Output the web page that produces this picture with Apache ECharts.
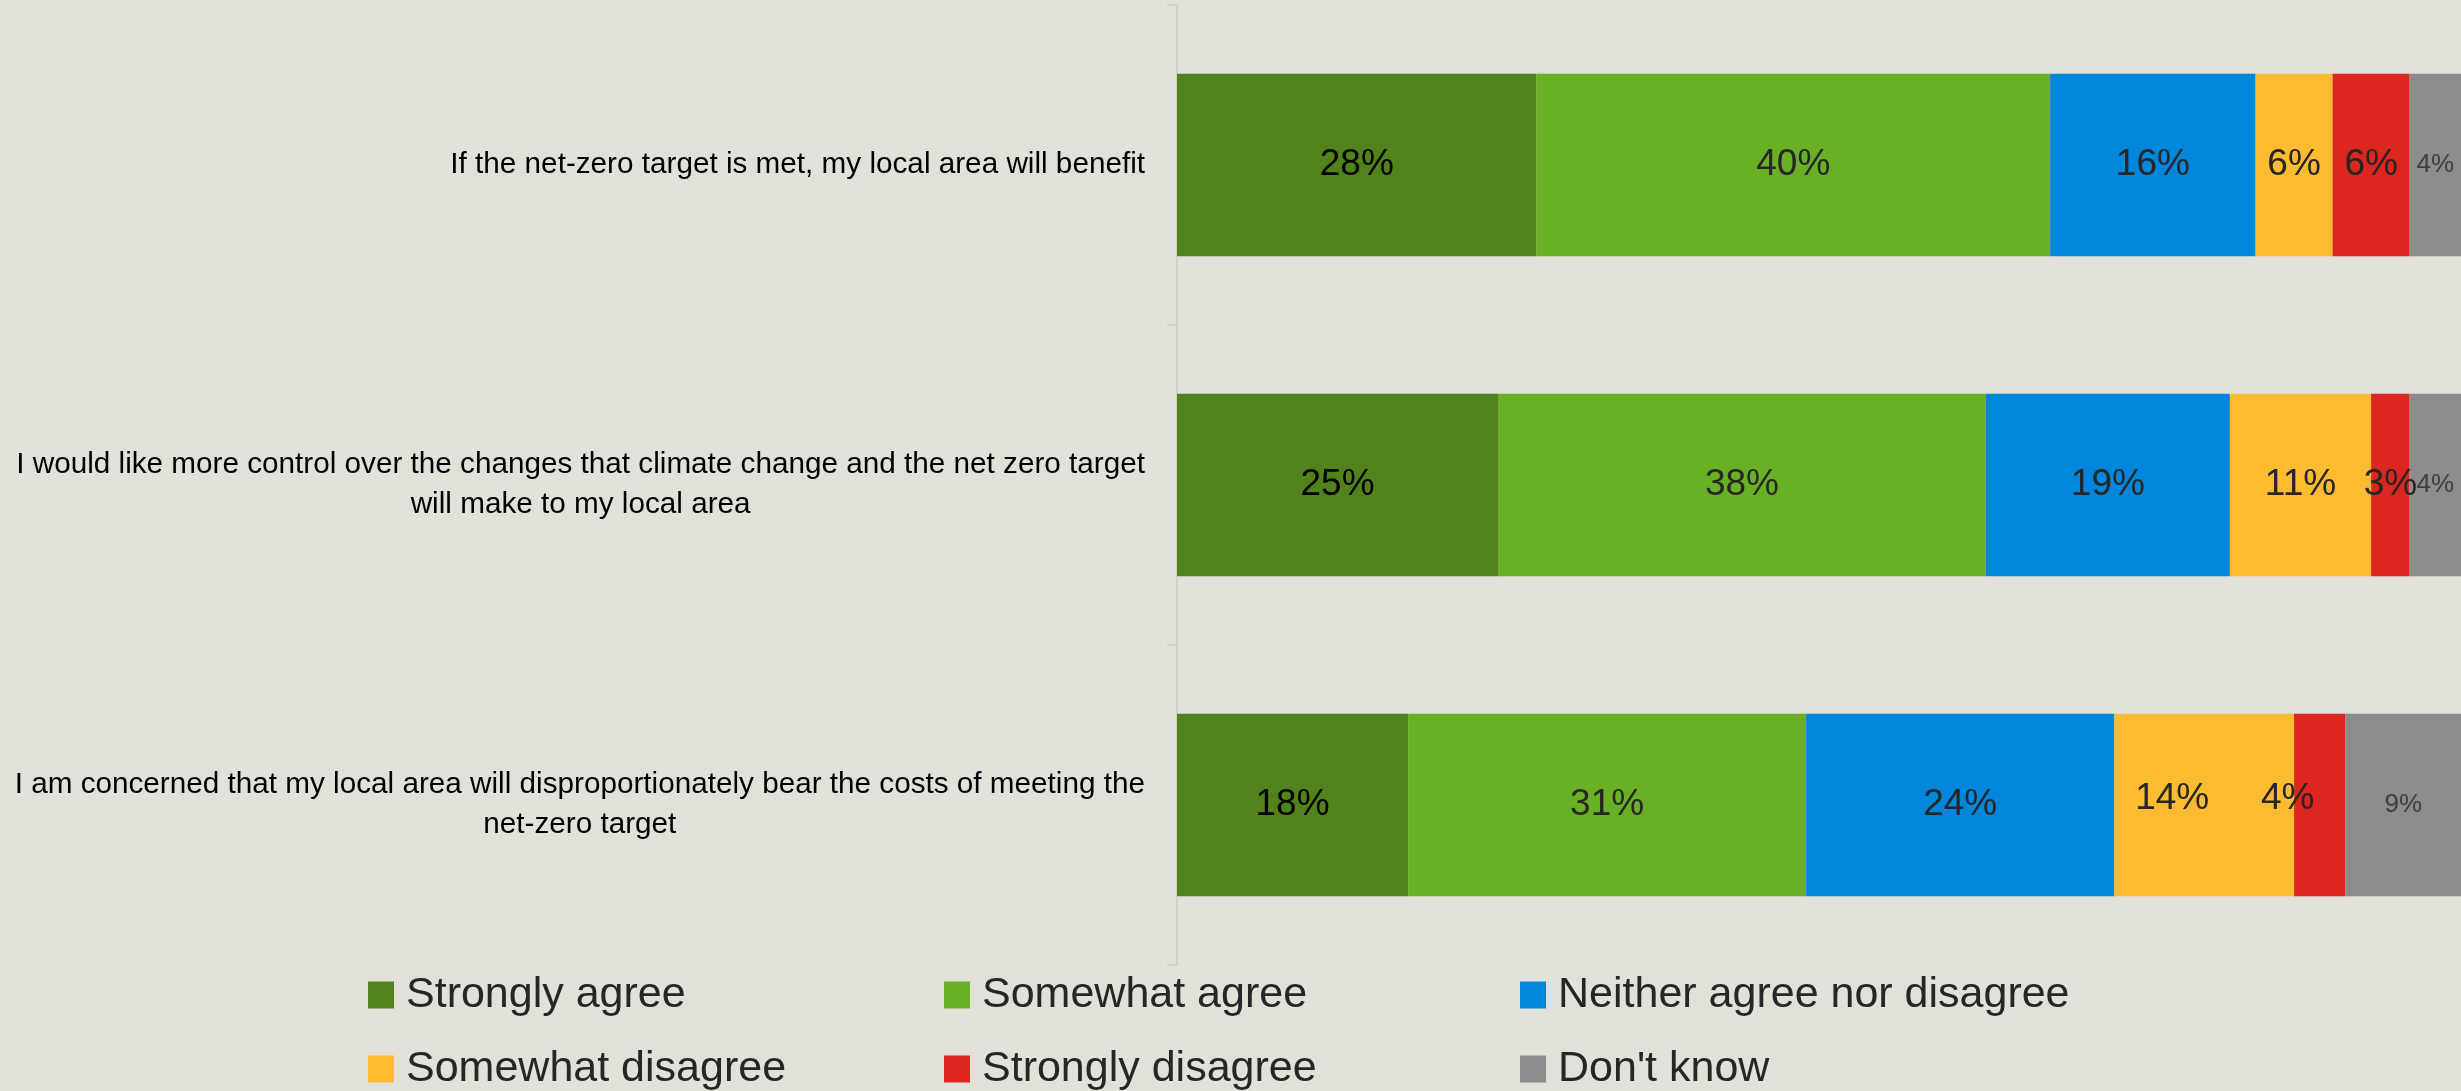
<!DOCTYPE html>
<html><head><meta charset="utf-8">
<script src="https://cdn.jsdelivr.net/npm/echarts@6/dist/echarts.min.js"></script>
<style>html,body{margin:0;padding:0;background:#e1e1da;} #c{width:2461px;height:1091px;}</style>
</head><body><div id="c"></div>
<script>
const categories = [
  "If the net-zero target is met, my local area will benefit",
  "I would like more control over the changes that climate change and the net zero target\nwill make to my local area",
  "I am concerned that my local area will disproportionately bear the costs of meeting the\nnet-zero target"
];
const seriesNames = ["Strongly agree", "Somewhat agree", "Neither agree nor disagree", "Somewhat disagree", "Strongly disagree", "Don't know"];
const stronglyAgree    = [28, 25, 18];
const somewhatAgree    = [40, 38, 31];
const neitherAgree     = [16, 19, 24];
const somewhatDisagree = [6, 11, 14];
const stronglyDisagree = [6, 3, 4];
const dontKnow         = [4, 4, 9];

const values = [stronglyAgree, somewhatAgree, neitherAgree, somewhatDisagree, stronglyDisagree, dontKnow];
const colors = ['#52821b', '#69b024', '#0086db', '#fdbb32', '#dc2620', '#8c8c8c'];
const labelColors = ['#000000', '#262626', '#262626', '#262626', '#262626', '#404040'];
const labelSizes = [37, 37, 37, 37, 37, 26];
const FONT = '"Liberation Sans", Arial, sans-serif';

// label nudges as in the reference (series index, category index)
const labelNudge = { '3-2': [-32, -6], '4-2': [-32, -6] };

const chart = echarts.init(document.getElementById('c'));
chart.setOption({
  backgroundColor: '#e1e1da',
  animation: false,
  grid: { left: 1177, right: 0, top: 5, bottom: 126, containLabel: false, outerBoundsMode: 'none' },
  xAxis: {
    type: 'value', min: 0, max: 100, show: false,
    splitLine: { show: false }
  },
  yAxis: {
    type: 'category', data: categories, inverse: true,
    axisLine: { show: true, lineStyle: { color: '#cfd0cb', width: 2 } },
    axisTick: { show: true, length: 10, lineStyle: { color: '#cfd0cb', width: 2 } },
    axisLabel: {
      margin: 32,
      formatter: v => v.split('\n').map(l => '{c|' + l + '}').join('\n'),
      rich: { c: { align: 'center', fontSize: 29.7, lineHeight: 40, color: '#000', fontFamily: FONT } }
    }
  },
  legend: {
    data: seriesNames,
    left: 368, top: 962, width: 1730, padding: 0,
    orient: 'horizontal',
    icon: 'rect', itemWidth: 26, itemHeight: 27, itemGap: 8,
    textStyle: { fontSize: 43, color: '#262626', width: 530, lineHeight: 66, padding: [0, 0, 0, 7], fontFamily: FONT }
  },
  series: seriesNames.map((name, si) => ({
    name, type: 'bar', stack: 'total', barCategoryGap: '43%',
    itemStyle: { color: colors[si] },
    label: {
      show: true, position: 'inside', formatter: '{c}%',
      fontSize: labelSizes[si], color: labelColors[si], fontFamily: FONT
    },
    data: values[si].map((v, ci) => {
      const n = labelNudge[si + '-' + ci];
      return n ? { value: v, label: { offset: n } } : v;
    })
  }))
});
</script></body></html>
